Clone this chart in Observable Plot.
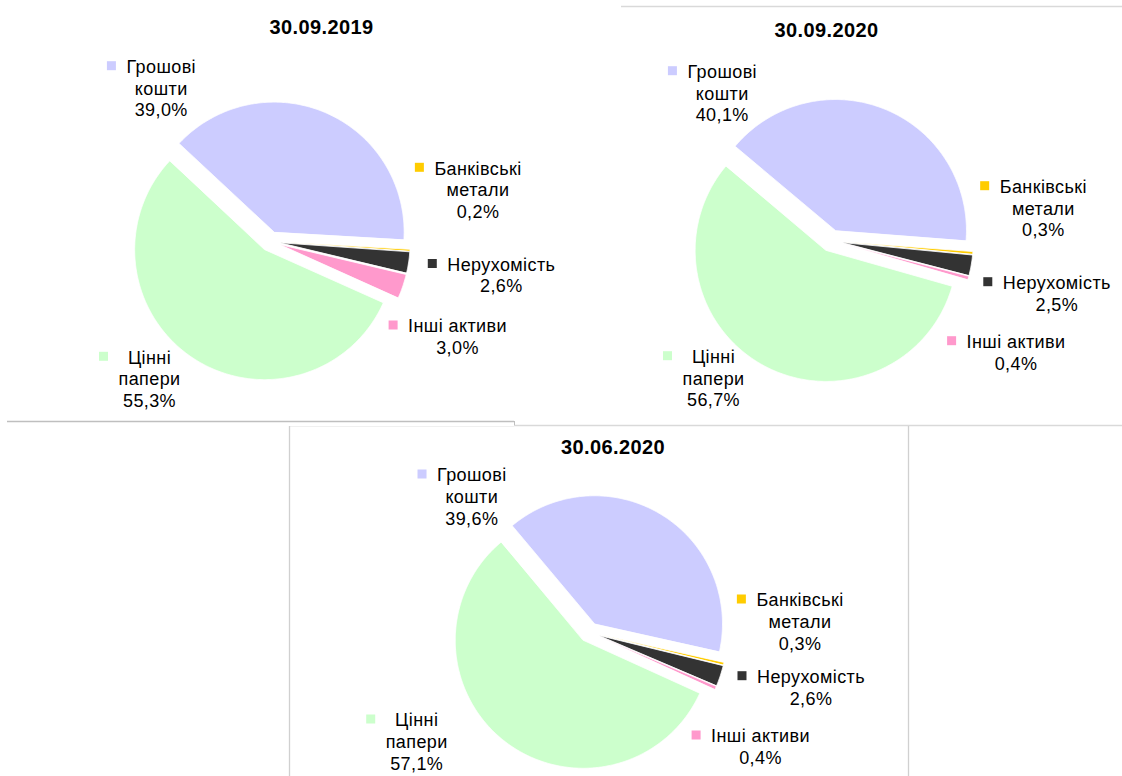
<!DOCTYPE html>
<html>
<head>
<meta charset="utf-8">
<script src="https://cdn.jsdelivr.net/npm/d3@7"></script>
<script src="https://cdn.jsdelivr.net/npm/@observablehq/plot@0.6"></script>
<style>
html, body { margin: 0; padding: 0; background: #fff; }
#chart { width: 1122px; height: 776px; }
</style>
</head>
<body>
<div id="chart"></div>
<script>
// ---------- DATA ----------
const categories = ["Грошові кошти", "Банківські метали", "Нерухомість", "Інші активи", "Цінні папери"];
const labelLines = [["Грошові", "кошти"], ["Банківські", "метали"], ["Нерухомість"], ["Інші активи"], ["Цінні", "папери"]];
const dates = ["30.09.2019", "30.09.2020", "30.06.2020"];
const values_2019_09 = [39.0, 0.2, 2.6, 3.0, 55.3];
const values_2020_09 = [40.1, 0.3, 2.5, 0.4, 56.7];
const values_2020_06 = [39.6, 0.3, 2.6, 0.4, 57.1];
const colors = ["#ccccff", "#ffcc00", "#333333", "#ff99cc", "#ccffcc"];

// ---------- LAYOUT (pixels) ----------
const pies = [
  { title: dates[0], values: values_2019_09, cx: 269.7, cy: 240.8, r: 130, start: 313, explode: 10,
    titleAt: [321, 27.5],
    labels: [[160.7, 66.7], [477.5, 168.3], [500.8, 264.5], [457, 326], [149, 357.3]] },
  { title: dates[1], values: values_2020_09, cx: 830.8, cy: 240.2, r: 131, start: 310, explode: 11,
    titleAt: [826, 30],
    labels: [[721.7, 71.7], [1042.8, 186.7], [1056.3, 282.7], [1015.5, 341.7], [713, 356.7]] },
  { title: dates[2], values: values_2020_06, cx: 588.8, cy: 631.8, r: 128, start: 320, explode: 10,
    titleAt: [612.5, 447.3],
    labels: [[471.3, 475], [799.5, 600], [810.5, 676.7], [760, 736], [416.2, 720]] }
];
const framesDark = [{ y: 421, x1: 7, x2: 514 }];
const framesLight = [{ y: 6, x1: 621, x2: 1122 }, { y: 425, x1: 514, x2: 1122 }];
const framesFaint = [{ y: 426, x1: 290, x2: 514 }];
const vFrames = [{ x: 289, y1: 426, y2: 776 }, { x: 908, y1: 426, y2: 776 }];
const vFramesDark = [{ x: 514, y1: 421, y2: 425 }];

const FONT = "'Liberation Sans', Arial, sans-serif";
const FS = 18, LS = 0.4, LH = 21.7, KEY = 9, KEYGAP = 10;

const ctx = document.createElement("canvas").getContext("2d");
ctx.font = `${FS}px 'Liberation Sans'`;
const textWidth = s => ctx.measureText(s).width + LS * s.length;
const fmt = v => v.toFixed(1).replace(".", ",") + "%";

// ---------- BUILD ----------
const slicePts = [], keyRects = [], labelRows = [], titleRows = [];
pies.forEach((p, pi) => {
  titleRows.push({ x: p.titleAt[0], y: p.titleAt[1], text: p.title });
  const total = d3.sum(p.values);
  let a = p.start;
  p.values.forEach((v, i) => {
    const span = v / total * 360;
    const a0 = a, a1 = a + span;
    a = a1;
    const mid = (a0 + a1) / 2 * Math.PI / 180;
    const ax = p.cx + p.explode * Math.sin(mid);
    const ay = p.cy - p.explode * Math.cos(mid);
    const key = pi + "-" + i;
    slicePts.push({ key, cat: categories[i], x: ax, y: ay });
    const n = Math.max(2, Math.ceil(span / 0.5));
    for (let k = 0; k <= n; k++) {
      const t = (a0 + (a1 - a0) * k / n) * Math.PI / 180;
      slicePts.push({ key, cat: categories[i], x: ax + p.r * Math.sin(t), y: ay - p.r * Math.cos(t) });
    }
    // label
    const lines = [...labelLines[i], fmt(v)];
    const [lx, ly] = p.labels[i];
    lines.forEach((s, k) => labelRows.push({ x: lx, y: ly + k * LH, text: s }));
    const maxW = d3.max(lines, textWidth);
    const left = lx - maxW / 2;
    keyRects.push({ cat: categories[i], x1: left - KEYGAP - KEY, x2: left - KEYGAP, y1: ly - 1 - KEY / 2, y2: ly - 1 + KEY / 2 });
  });
});

const chart = Plot.plot({
  width: 1122,
  height: 776,
  margin: 0,
  x: { domain: [0, 1122], range: [0, 1122], axis: null },
  y: { domain: [0, 776], range: [0, 776], axis: null },
  color: { domain: categories, range: colors },
  style: { fontFamily: FONT, background: "white", letterSpacing: LS + "px", overflow: "visible" },
  marks: [
    Plot.ruleY(framesDark, { y: "y", x1: "x1", x2: "x2", stroke: "#bfbfbf", strokeWidth: 1.3 }),
    Plot.ruleY(framesLight, { y: "y", x1: "x1", x2: "x2", stroke: "#d9d9d9", strokeWidth: 1.3 }),
    Plot.ruleY(framesFaint, { y: "y", x1: "x1", x2: "x2", stroke: "#f0f0f0", strokeWidth: 1 }),
    Plot.ruleX(vFrames, { x: "x", y1: "y1", y2: "y2", stroke: "#d0d0d0", strokeWidth: 1.3 }),
    Plot.ruleX(vFramesDark, { x: "x", y1: "y1", y2: "y2", stroke: "#bfbfbf", strokeWidth: 1 }),
    Plot.line(slicePts, { x: "x", y: "y", z: "key", fill: "cat", stroke: "white", strokeWidth: 0.8, curve: "linear-closed" }),
    Plot.rect(keyRects, { x1: "x1", x2: "x2", y1: "y1", y2: "y2", fill: "cat" }),
    Plot.text(labelRows, { x: "x", y: "y", text: "text", fontSize: FS, fill: "#000", textAnchor: "middle", lineAnchor: "middle" }),
    Plot.text(titleRows, { x: "x", y: "y", text: "text", fontSize: 20, fontWeight: "bold", fill: "#000", textAnchor: "middle", lineAnchor: "middle" })
  ]
});
document.getElementById("chart").appendChild(chart);
</script>
</body>
</html>
